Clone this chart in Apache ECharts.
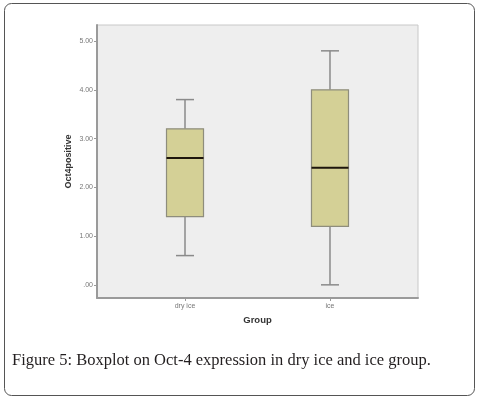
<!DOCTYPE html>
<html>
<head>
<meta charset="utf-8">
<script src="https://cdn.jsdelivr.net/npm/echarts@6/dist/echarts.min.js"></script>
<style>
  html, body { margin: 0; padding: 0; background: #fff; }
  #chart { width: 480px; height: 399px; }
</style>
</head>
<body>
<div id="chart"></div>
<script>
// box summaries per group: min, Q1, median, Q3, max
const categories = ['dry ice', 'ice']
const minVals = [0.6, 0.0]
const q1Vals = [1.4, 1.2]
const medianVals = [2.6, 2.4]
const q3Vals = [3.2, 4.0]
const maxVals = [3.8, 4.8]
const yTicks = [0, 1, 2, 3, 4, 5]

const rows = categories.map((c, i) => [
  i + 1, minVals[i], q1Vals[i], medianVals[i], q3Vals[i], maxVals[i],
])

const chart = echarts.init(document.getElementById('chart'))

const renderBox = (params, api) => {
  const x = api.value(0)
  const lo = api.coord([x, api.value(1)])
  const q1 = api.coord([x, api.value(2)])
  const med = api.coord([x, api.value(3)])
  const q3 = api.coord([x, api.value(4)])
  const hi = api.coord([x, api.value(5)])
  const cx = lo[0]
  const bw = 37
  const cw = 18
  const whisker = { stroke: '#8a8a8a', lineWidth: 1.5 }
  return {
    type: 'group',
    children: [
      { type: 'line', shape: { x1: cx, y1: hi[1], x2: cx, y2: q3[1] }, style: whisker },
      { type: 'line', shape: { x1: cx, y1: q1[1], x2: cx, y2: lo[1] }, style: whisker },
      { type: 'line', shape: { x1: cx - cw / 2, y1: hi[1], x2: cx + cw / 2, y2: hi[1] }, style: whisker },
      { type: 'line', shape: { x1: cx - cw / 2, y1: lo[1], x2: cx + cw / 2, y2: lo[1] }, style: whisker },
      {
        type: 'rect',
        shape: { x: cx - bw / 2, y: q3[1], width: bw, height: q1[1] - q3[1] },
        style: { fill: '#d4d096', stroke: '#8e8d7c', lineWidth: 1.2 },
      },
      {
        type: 'line',
        shape: { x1: cx - bw / 2, y1: med[1], x2: cx + bw / 2, y2: med[1] },
        style: { stroke: '#1e160c', lineWidth: 2 },
      },
    ],
  }
}

const option = {
  backgroundColor: '#fff',
  animation: false,
  textStyle: { fontFamily: 'Liberation Sans, Arial, sans-serif' },
  title: {
    text: 'Figure 5: Boxplot on Oct-4 expression in dry ice and ice group.',
    left: 12,
    top: 352,
    padding: 0,
    textStyle: {
      fontFamily: 'Liberation Serif, Times New Roman, serif',
      fontSize: 16.5,
      fontWeight: 'normal',
      color: '#231f20',
    },
  },
  graphic: [
    {
      type: 'rect',
      shape: { x: 4.5, y: 3.5, width: 470, height: 392, r: 7 },
      style: { fill: 'none', stroke: '#555', lineWidth: 1 },
      silent: true,
    },
  ],
  grid: {
    left: 97,
    right: 62,
    top: 25,
    bottom: 101,
    show: true,
    backgroundColor: '#eeeeee',
    borderColor: '#c8c8c8',
    borderWidth: 1,
  },
  xAxis: {
    type: 'value',
    min: 0.393,
    max: 2.607,
    name: 'Group',
    nameLocation: 'middle',
    nameGap: 17,
    nameMoveOverlap: false,
    nameTextStyle: { fontSize: 9.5, fontWeight: 'bold', color: '#333' },
    splitLine: { show: false },
    axisLine: { show: true, onZero: false, lineStyle: { color: '#9a9a9a', width: 2 } },
    axisTick: { show: true, length: 3, customValues: [1, 2], lineStyle: { color: '#9a9a9a' } },
    axisLabel: {
      customValues: [1, 2],
      formatter: (v) => categories[Math.round(v) - 1] || '',
      fontSize: 7,
      color: '#777',
      margin: 5,
    },
  },
  yAxis: {
    type: 'value',
    min: -0.27,
    max: 5.33,
    name: 'Oct4positive',
    nameLocation: 'middle',
    nameGap: 24,
    nameMoveOverlap: false,
    nameTextStyle: { fontSize: 9, fontWeight: 'bold', color: '#333' },
    splitLine: { show: false },
    axisLine: { show: true, onZero: false, lineStyle: { color: '#9a9a9a', width: 2 } },
    axisTick: { show: true, length: 3, customValues: yTicks, lineStyle: { color: '#9a9a9a' } },
    axisLabel: {
      customValues: yTicks,
      formatter: (v) => (v === 0 ? '.00' : v.toFixed(2)),
      fontSize: 7,
      color: '#777',
      margin: 4,
    },
  },
  series: [
    {
      type: 'custom',
      renderItem: renderBox,
      encode: { x: 0, y: [1, 2, 3, 4, 5] },
      data: rows,
    },
  ],
}

chart.setOption(option)
</script>
</body>
</html>
